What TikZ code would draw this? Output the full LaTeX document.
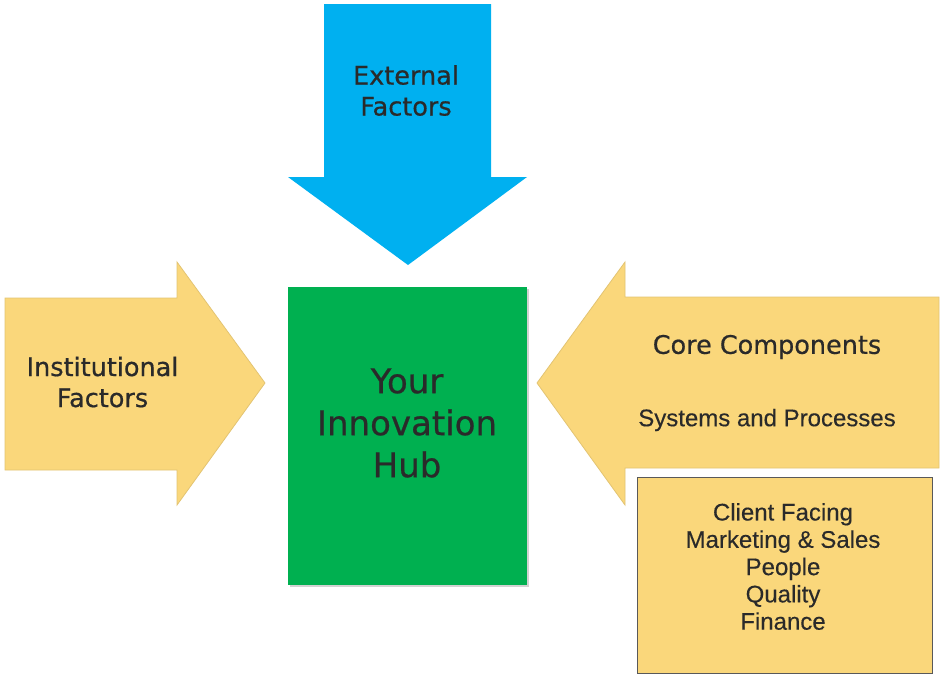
\documentclass[tikz,border=0pt]{standalone}
\usepackage{fontspec}
\setmainfont{Liberation Sans}[FakeBold=0.3]
\newfontfamily\dejavu{DejaVu Sans}[FakeBold=0.6]
\definecolor{arrblue}{HTML}{00B0F0}
\definecolor{arryel}{HTML}{FAD77B}
\definecolor{yeledge}{HTML}{E3C472}
\definecolor{hubgreen}{HTML}{00B050}
\definecolor{txt}{HTML}{2A2A2A}
\begin{document}
\begin{tikzpicture}[x=1pt,y=-1pt,
  blueshape/.style={fill=arrblue,draw=none},
  yelshape/.style={fill=arryel,draw=yeledge,line width=0.8pt,line join=miter},
  label/.style={text=txt,align=center,inner sep=0pt},
  bigtxt/.style={label,font=\dejavu\fontsize{25.5}{31}\selectfont},
  hubtxt/.style={label,font=\dejavu\fontsize{34}{42}\selectfont},
  smalltxt/.style={label,font=\fontsize{24}{27.3}\selectfont}]
\useasboundingbox (0,0) rectangle (941,675);
\fill[white] (0,0) rectangle (941,675);
% blue arrow down
\path[blueshape] (324,4) -- (491,4) -- (491,177) -- (527,177) -- (408,265) -- (288,177) -- (324,177) -- cycle;
% left arrow
\path[yelshape] (5,298) -- (177,298) -- (177,262) -- (265,383) -- (177,505) -- (177,470) -- (5,470) -- cycle;
% right arrow
\path[yelshape] (939,297) -- (625,297) -- (625,262) -- (537,383) -- (625,505) -- (625,468) -- (939,468) -- cycle;
% hub
\fill[gray!35] (290,289) rectangle (529,587);
\node[draw=none,fill=hubgreen,minimum width=239pt,minimum height=298pt,inner sep=0pt,anchor=north west] (hub) at (288,287) {};
% lower box
\node[fill=arryel,draw=black!65,line width=1.2pt,minimum width=295pt,minimum height=196pt,inner sep=0pt,anchor=north west] (box) at (637,477) {};
% texts
\node[bigtxt] (ext) at (406,90.5) {External\\Factors};
\node[bigtxt] (inst) at (102.5,382) {Institutional\\Factors};
\node[hubtxt] (hubt) at (407,423) {Your\\Innovation\\Hub};
\node[bigtxt] (core) at (767,347) {Core Components};
\node[smalltxt] (sys) at (767,420) {Systems and Processes};
\node[smalltxt] (list) at (783,566.5) {Client Facing\\Marketing \& Sales\\People\\Quality\\Finance};
\end{tikzpicture}
\end{document}
